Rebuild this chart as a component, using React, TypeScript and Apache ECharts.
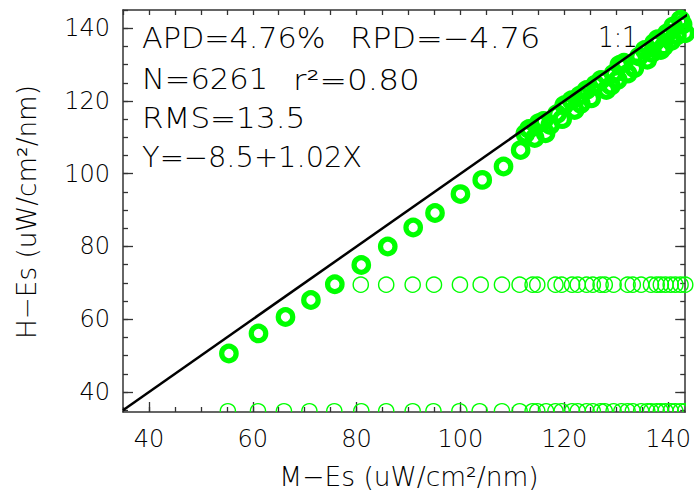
import React, { useEffect, useRef } from "react";
import * as echarts from "echarts";

// ---- data ----
const diagX = [55.4, 61.1, 66.3, 71.2, 75.8, 80.9, 86.0, 90.9, 95.1, 100.0, 104.2, 108.3, 111.6, 112.5, 113.2, 114.3, 115.1, 116.0, 116.4, 117.3, 118.6, 119.6, 120.0, 121.4, 122.0, 123.0, 123.2, 124.3, 125.2, 126.0, 127.1, 128.1, 129.0, 129.5, 130.3, 130.6, 131.5, 132.2, 133.5, 134.4, 135.5, 136.0, 136.9, 137.3, 138.0, 138.6, 139.2, 139.8, 140.6, 141.0, 141.7, 142.4, 142.8, 143.3];
const diagY = [50.6, 56.1, 60.6, 65.3, 69.6, 74.9, 80.0, 85.2, 89.2, 94.4, 98.3, 102.0, 106.5, 111.0, 112.3, 109.8, 113.9, 114.5, 111.1, 113.4, 116.4, 115.0, 118.8, 120.2, 117.5, 121.5, 119.2, 123.0, 120.7, 124.5, 125.8, 123.0, 124.2, 127.5, 125.8, 129.9, 130.5, 127.5, 129.0, 132.2, 134.0, 131.3, 133.2, 135.9, 137.0, 134.0, 135.0, 138.6, 136.5, 140.5, 138.0, 142.3, 141.0, 138.6];

const midX = [80.8, 85.7, 90.8, 94.9, 99.9, 103.9, 108.0, 111.4, 113.9, 114.8, 118.3, 119.5, 121.5, 122.6, 124.3, 125.5, 127.0, 127.8, 129.5, 132.2, 133.2, 134.8, 136.7, 137.8, 138.6, 139.5, 140.5, 141.4, 142.4, 143.3];
const midY = 69.5;

const lowX = [55.2, 61.0, 66.0, 70.9, 75.7, 80.9, 85.7, 90.8, 94.8, 99.8, 103.7, 108.0, 111.4, 113.9, 114.8, 116.5, 118.3, 119.5, 121.5, 122.6, 124.3, 125.5, 127.0, 127.8, 129.5, 131.0, 132.2, 133.2, 134.8, 136.0, 136.7, 137.8, 138.6, 139.5, 140.5, 141.4, 142.4, 143.3];
const lowY = 34.7;

const oneToOne = [[35, 35], [145, 145]];

const majorTicks = [40, 60, 80, 100, 120, 140];
const minorTicksX = [35, 40, 45, 50, 55, 60, 65, 70, 75, 80, 85, 90, 95, 100, 105, 110, 115, 120, 125, 130, 135, 140];
const minorTicksY = [35, 40, 45, 50, 55, 60, 65, 70, 75, 80, 85, 90, 95, 100, 105, 110, 115, 120, 125, 130, 135, 140, 145];

const X_MIN = 35, X_MAX = 143.3, Y_MIN = 34.5, Y_MAX = 145;

const GREEN = "#00ff00";
const AXIS_COLOR = "#333";
const FONT = "DejaVu Sans";
const WEIGHT = 200;

export default function App() {
  const ref = useRef<HTMLDivElement>(null);
  useEffect(() => {
    const chart = echarts.init(ref.current!, null, { renderer: "svg" });

    const axisBase = (pos: string, min: number, max: number) => ({
      type: "value",
      position: pos,
      min,
      max,
      splitLine: { show: false },
    });
    const major = (pos: string, min: number, max: number, labels: boolean, line: boolean) => ({
      ...axisBase(pos, min, max),
      axisLine: { show: line, lineStyle: { color: AXIS_COLOR, width: 1.5 } },
      axisTick: { show: true, inside: true, length: 10, customValues: majorTicks, lineStyle: { color: AXIS_COLOR, width: 1.3 } },
      axisLabel: labels
        ? { show: true, customValues: majorTicks, fontSize: 24, fontFamily: FONT, fontWeight: WEIGHT, color: "#000", margin: pos === "left" ? 13 : 15 }
        : { show: false },
    });
    const minor = (pos: string, min: number, max: number, vals: number[], line: boolean, len: number) => ({
      ...axisBase(pos, min, max),
      axisLine: { show: line, lineStyle: { color: AXIS_COLOR, width: 1.5 } },
      axisTick: { show: true, inside: true, length: len, customValues: vals, lineStyle: { color: AXIS_COLOR, width: 1.3 } },
      axisLabel: { show: false },
    });

    const txt = (text: string, x: number, y: number, scaleX: number, fontSize = 27.5, rotation = 0, align = "left") => ({
      type: "text",
      x,
      y,
      scaleX,
      rotation,
      z: 100,
      style: { text, fontSize, fontFamily: FONT, fontWeight: WEIGHT, fill: "#000", align, verticalAlign: "middle" },
    });

    chart.setOption({
      animation: false,
      backgroundColor: "#fff",
      grid: { left: 123, top: 10, right: 3, bottom: 81, containLabel: false },
      xAxis: [
        major("bottom", X_MIN, X_MAX, true, true),
        minor("bottom", X_MIN, X_MAX, minorTicksX, false, 5),
        minor("top", X_MIN, X_MAX, minorTicksX, true, 5),
      ],
      yAxis: [
        major("left", Y_MIN, Y_MAX, true, true),
        minor("left", Y_MIN, Y_MAX, minorTicksY, false, 5),
        major("right", Y_MIN, Y_MAX, false, true),
        minor("right", Y_MIN, Y_MAX, minorTicksY, false, 5),
      ],
      series: [
        {
          type: "custom",
          xAxisIndex: 0,
          yAxisIndex: 0,
          clip: true,
          z: 2,
          data: lowX.map((x) => [x, lowY]),
          encode: { x: 0, y: 1 },
          renderItem: (params: any, api: any) => {
            const p = api.coord([api.value(0), api.value(1)]);
            return {
              type: "circle",
              shape: { cx: p[0], cy: p[1], r: 7.6 },
              style: { fill: "none", stroke: GREEN, lineWidth: 1.4 },
            };
          },
        },
        {
          type: "scatter",
          xAxisIndex: 0,
          yAxisIndex: 0,
          z: 2,
          symbol: "circle",
          symbolSize: 15.2,
          itemStyle: { color: "rgba(0,0,0,0)", borderColor: GREEN, borderWidth: 1.4, opacity: 1 },
          data: midX.map((x) => [x, midY]),
        },
        {
          type: "scatter",
          xAxisIndex: 0,
          yAxisIndex: 0,
          z: 3,
          symbol: "circle",
          symbolSize: 14.5,
          itemStyle: { color: "rgba(0,0,0,0)", borderColor: GREEN, borderWidth: 5.2, opacity: 1 },
          data: diagX.map((x, i) => [x, diagY[i]]),
        },
        {
          type: "line",
          xAxisIndex: 0,
          yAxisIndex: 0,
          z: 5,
          clip: true,
          symbol: "none",
          lineStyle: { color: "#000", width: 2.5 },
          data: oneToOne,
        },
      ],
      graphic: [
        txt("APD=4.76%", 142, 38, 1.1),
        txt("RPD=\u22124.76", 350, 38, 1.16),
        txt("1:1", 598, 38, 0.9),
        txt("N=6261", 142, 80, 1.11),
        txt("r\u00b2=0.80", 293, 80, 1.19),
        txt("RMS=13.5", 142, 119, 1.13),
        txt("Y=\u22128.5+1.02X", 142, 158, 1.05),
        txt("M\u2212Es (uW/cm\u00b2/nm)", 409, 477, 1.02, 26, 0, "center"),
        txt("H\u2212Es (uW/cm\u00b2/nm)", 27, 212, 1.01, 26, Math.PI / 2, "center"),
      ],
    });
    return () => chart.dispose();
  }, []);
  return (
    <div
      ref={ref}
      style={{ position: "fixed", left: 0, top: 0, width: 694, height: 493, background: "#fff" }}
    />
  );
}
